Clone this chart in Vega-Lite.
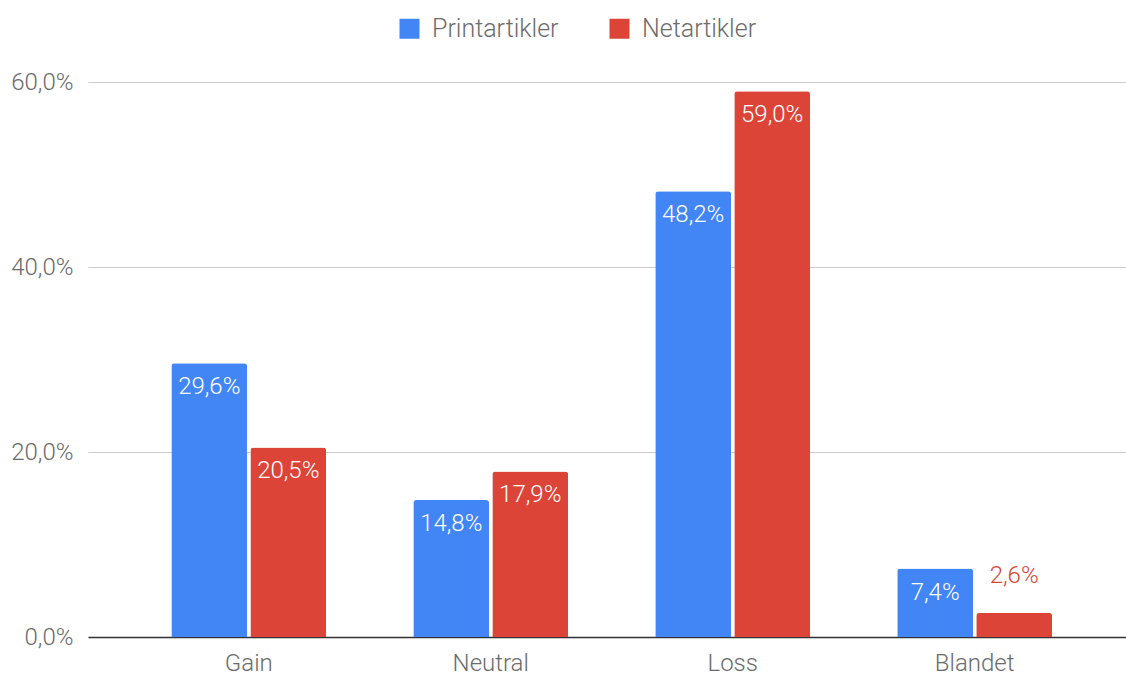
{
  "$schema": "https://vega.github.io/schema/vega-lite/v6.json",
  "width": 1038,
  "height": 555,
  "autosize": {"type": "none"},
  "padding": {"left": 88, "top": 82, "right": 0, "bottom": 39},
  "background": "white",
  "config": {
    "locale": {"number": {"decimal": ",", "thousands": ".", "grouping": [3], "currency": ["", " kr"]}},
    "font": "Roboto",
    "view": {"stroke": null}
  },
  "data": {
    "values": [
      {"category": "Gain", "series": "Printartikler", "value": 0.296},
      {"category": "Gain", "series": "Netartikler", "value": 0.205},
      {"category": "Neutral", "series": "Printartikler", "value": 0.148},
      {"category": "Neutral", "series": "Netartikler", "value": 0.179},
      {"category": "Loss", "series": "Printartikler", "value": 0.482},
      {"category": "Loss", "series": "Netartikler", "value": 0.59},
      {"category": "Blandet", "series": "Printartikler", "value": 0.074},
      {"category": "Blandet", "series": "Netartikler", "value": 0.026}
    ]
  },
  "encoding": {
    "x": {
      "field": "category", "type": "nominal", "sort": ["Gain", "Neutral", "Loss", "Blandet"],
      "scale": {"paddingInner": 0.36, "paddingOuter": 0.325, "align": 0.53},
      "axis": {"title": null, "labelAngle": 0, "ticks": false, "domainColor": "#333333", "domainWidth": 1.5,
               "labelFont": "Roboto", "labelFontSize": 24, "labelFontWeight": 300, "labelColor": "#6b6b6b", "labelPadding": 14}
    },
    "xOffset": {"field": "series", "type": "nominal", "sort": ["Printartikler", "Netartikler"], "scale": {"paddingInner": 0.04}},
    "y": {
      "field": "value", "type": "quantitative",
      "scale": {"domain": [0, 0.6]},
      "axis": {"title": null, "values": [0, 0.2, 0.4, 0.6], "format": ".1%", "domain": false, "ticks": false,
               "gridColor": "#cccccc", "labelFont": "Roboto", "labelFontSize": 24, "labelFontWeight": 300, "labelColor": "#6b6b6b", "labelPadding": 15}
    }
  },
  "layer": [
    {
      "mark": {"type": "bar", "cornerRadiusTopLeft": 3, "cornerRadiusTopRight": 3},
      "encoding": {
        "color": {
          "field": "series", "type": "nominal",
          "scale": {"domain": ["Printartikler", "Netartikler"], "range": ["#4285f4", "#db4437"]},
          "legend": {
            "title": null, "orient": "none", "direction": "horizontal", "legendX": 309, "legendY": -66,
            "symbolType": "square", "symbolSize": 400, "symbolStrokeWidth": 0, "symbolOpacity": 1,
            "labelFont": "Roboto", "labelFontSize": 25, "labelFontWeight": 300, "labelColor": "#6b6b6b", "labelOffset": 10,
            "columnPadding": 48
          }
        }
      }
    },
    {
      "transform": [{"filter": "datum.value >= 0.05"}],
      "mark": {"type": "text", "baseline": "middle", "dy": 24, "color": "white", "fontSize": 24, "fontWeight": 300, "font": "Roboto"},
      "encoding": {"text": {"field": "value", "type": "quantitative", "format": ".1%"}}
    },
    {
      "transform": [{"filter": "datum.value < 0.05"}],
      "mark": {"type": "text", "baseline": "middle", "dy": -37, "color": "#db4437", "fontSize": 24, "fontWeight": 300, "font": "Roboto"},
      "encoding": {"text": {"field": "value", "type": "quantitative", "format": ".1%"}}
    }
  ]
}
